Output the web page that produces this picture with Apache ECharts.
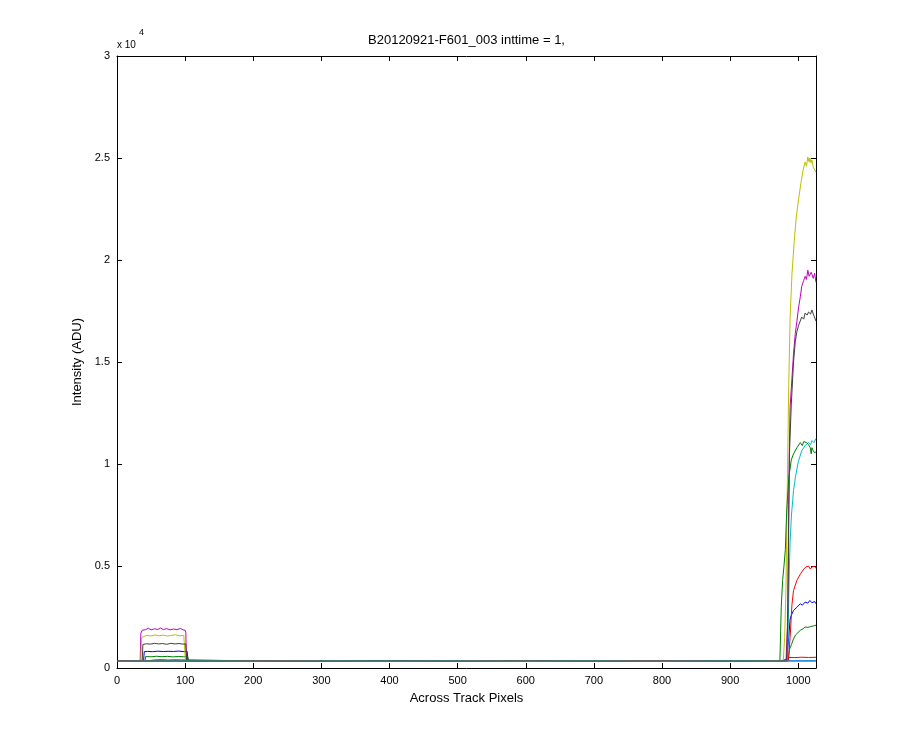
<!DOCTYPE html>
<html>
<head>
<meta charset="utf-8">
<script src="https://cdn.jsdelivr.net/npm/echarts@6/dist/echarts.min.js"></script>
<style>html,body{margin:0;padding:0;background:#fff}#c{width:900px;height:750px}</style>
</head>
<body>
<div id="c"></div>
<script>
// ---- data (x = pixel index, y = intensity ADU) ----
var titleText = 'B20120921-F601_003 inttime = 1,';
var xLabel = 'Across Track Pixels';
var yLabel = 'Intensity (ADU)';
var yTickLabels = ['0', '0.5', '1', '1.5', '2', '2.5', '3'];

var blue1 = [[1,340],[20,350],[39,345],[40,800],[45,815],[52,800],[60,825],[68,805],[75,820],[83,810],[90,830],[97,805],[103,815],[104,350],[150,345],[250,340],[350,355],[450,335],[550,350],[650,340],[750,355],[850,345],[950,350],[975,360],[983,420],[986,1500],[988,2400],[990,2600],[993,2820],[998,2980],[1003,3150],[1006,3080],[1010,3230],[1014,3180],[1017,3310],[1020,3200],[1022,3150],[1024,3260],[1026,3150]];
var green2 = [[1,340],[30,345],[41,340],[42,560],[50,550],[58,575],[66,555],[74,570],[82,545],[90,565],[98,550],[104,560],[105,345],[200,350],[300,335],[400,350],[500,340],[600,355],[700,340],[800,350],[900,345],[975,355],[985,380],[987,900],[990,1150],[993,1430],[996,1620],[998,1700],[1003,1850],[1007,1920],[1010,2010],[1014,1990],[1018,2030],[1022,2060],[1026,2100]];
var red3 = [[1,335],[43,340],[44,400],[55,395],[65,410],[75,390],[85,405],[95,395],[105,400],[106,340],[200,345],[300,355],[400,340],[500,350],[600,335],[700,350],[800,345],[900,355],[984,350],[986,520],[995,510],[1005,530],[1015,515],[1026,525]];
var cyan4 = [[1,345],[100,340],[200,350],[300,340],[400,345],[500,350],[600,340],[700,345],[800,350],[900,340],[984,350],[985,1500],[986,3500],[987,5000],[988,6200],[990,7500],[993,8700],[996,9400],[1000,10100],[1005,10650],[1010,10900],[1015,11050],[1018,10950],[1020,11150],[1023,11050],[1026,11250]];
var magenta5 = [[1,340],[34,340],[35,1700],[37,1850],[42,1880],[46,1950],[50,1870],[55,1920],[60,1890],[64,1960],[68,1880],[73,1930],[78,1870],[83,1910],[88,1880],[93,1940],[97,1870],[100,1850],[101,1750],[102,340],[200,345],[400,340],[600,350],[800,345],[982,360],[984,2000],[985,5000],[986,8000],[987,11000],[988,12800],[990.7,14200],[993,15400],[995.6,16400],[998,17000],[1000.5,17700],[1003,18200],[1005,18700],[1008,19000],[1010,19200],[1012,19050],[1014,19500],[1016,19200],[1017,19150],[1019,19400],[1020,19300],[1022,19100],[1024,19350],[1026,18900]];
var yellow6 = [[1,340],[35,340],[36,1500],[38,1580],[44,1600],[50,1570],[56,1620],[62,1580],[68,1610],[74,1570],[80,1600],[86,1630],[92,1580],[98,1600],[99.5,1550],[100.5,340],[300,345],[500,340],[700,350],[900,345],[978,370],[980,1500],[982,4000],[983.5,8000],[985,11500],[986,13900],[988,17200],[990.7,19300],[994,20900],[997,22100],[1000.5,23000],[1004,23800],[1007,24400],[1010,24800],[1012,24600],[1014,25050],[1016,24800],[1017,25000],[1019,24750],[1020,24900],[1022,24550],[1024,24500],[1026,24300]];
var gray7 = [[1,340],[37,340],[38,1150],[43,1190],[49,1170],[55,1210],[61,1180],[67,1200],[73,1160],[79,1210],[85,1180],[91,1200],[97,1170],[101,1180],[102,340],[300,340],[600,345],[900,340],[983,360],[985,3000],[986,7000],[987,10500],[989.7,12900],[993,15000],[995.6,16000],[998,16500],[1000.5,16800],[1005,17200],[1008,17100],[1010,17400],[1013,17300],[1015,17450],[1018,17350],[1020,17550],[1022,17350],[1026,17000]];
var blue8 = [[1,345],[120,350],[240,335],[360,350],[480,340],[600,355],[720,340],[840,350],[960,345],[1026,350]];
var green9 = [[1,340],[150,350],[300,345],[450,340],[600,350],[750,345],[900,340],[973,350],[974,350],[975,3000],[977,4300],[979,5000],[981,5800],[983,7700],[986,9300],[989.7,10200],[993,10500],[998,10800],[1003,11050],[1006,10900],[1008,11100],[1012,11050],[1015,10950],[1017.6,10800],[1019,10500],[1020,10800],[1022,10650],[1024,10550],[1026,10600]];
var red10 = [[1,350],[130,340],[260,355],[390,340],[520,350],[650,345],[780,355],[910,340],[985,350],[986,600],[988,1500],[990.7,3100],[993,3800],[998,4300],[1003,4600],[1008,4850],[1011,4950],[1013,4900],[1015,5000],[1017.6,4850],[1020,4950],[1022,4900],[1024,4980],[1026,4880]];
var cyan11 = [[1,340],[100,345],[200,340],[300,345],[400,340],[500,345],[600,340],[700,345],[800,340],[900,345],[1000,340],[1026,345]];

var seriesList = [
  {d: blue1, c: '#0000ff'}, {d: green2, c: '#008000'}, {d: red3, c: '#ff0000'},
  {d: cyan4, c: '#00bfbf'}, {d: magenta5, c: '#bf00bf'}, {d: yellow6, c: '#bfbf00'},
  {d: gray7, c: '#404040'}, {d: blue8, c: '#0000ff'}, {d: green9, c: '#008000'},
  {d: red10, c: '#ff0000'}, {d: cyan11, c: '#00bfbf'}
];

var FONT = 'Liberation Sans, Arial, sans-serif';
var chart = echarts.init(document.getElementById('c'), null, {renderer: 'canvas'});
function axisCommon() {
  return {
    axisLine: {show: true, onZero: false, lineStyle: {color: '#000', width: 1}},
    axisTick: {show: true, inside: true, length: 5, lineStyle: {color: '#000'}},
    splitLine: {show: false}
  };
}
chart.setOption({
  animation: false,
  backgroundColor: '#fff',
  color: seriesList.map(function (s) { return s.c; }),
  grid: {left: 117, right: 84, top: 56, bottom: 82, containLabel: false},
  xAxis: [
    Object.assign({type: 'value', position: 'bottom', min: 0, max: 1026, interval: 100,
      name: xLabel, nameLocation: 'middle', nameGap: 24,
      nameTextStyle: {fontFamily: FONT, fontSize: 13, color: '#000'},
      axisLabel: {fontFamily: FONT, fontSize: 11, color: '#000', margin: 7, showMaxLabel: false,
        formatter: function (v) { return String(v); }}}, axisCommon()),
    Object.assign({type: 'value', position: 'top', min: 0, max: 1026, interval: 100,
      axisLabel: {show: false}}, axisCommon())
  ],
  yAxis: [
    Object.assign({type: 'value', position: 'left', min: 0, max: 30000, interval: 5000,
      name: yLabel, nameLocation: 'middle', nameGap: 33,
      nameTextStyle: {fontFamily: FONT, fontSize: 13, color: '#000'},
      axisLabel: {fontFamily: FONT, fontSize: 11, color: '#000', margin: 7,
        formatter: function (v) { return yTickLabels[Math.round(v / 5000)]; }}}, axisCommon()),
    Object.assign({type: 'value', position: 'right', min: 0, max: 30000, interval: 5000,
      axisLabel: {show: false}}, axisCommon())
  ],
  graphic: [
    {type: 'text', x: 466.5, y: 40, style: {text: titleText, fontFamily: FONT, fontSize: 13, fill: '#000', align: 'center', verticalAlign: 'middle'}},
    {type: 'text', x: 117, y: 45, style: {text: 'x 10', fontFamily: FONT, fontSize: 10, fill: '#000', align: 'left', verticalAlign: 'middle'}},
    {type: 'text', x: 139, y: 33, style: {text: '4', fontFamily: FONT, fontSize: 9, fill: '#000', align: 'left', verticalAlign: 'middle'}}
  ],
  series: seriesList.map(function (s) {
    return {type: 'line', xAxisIndex: 0, yAxisIndex: 0, data: s.d, showSymbol: false, symbol: 'none',
      lineStyle: {color: s.c, width: 1}};
  })
});
</script>
</body>
</html>
